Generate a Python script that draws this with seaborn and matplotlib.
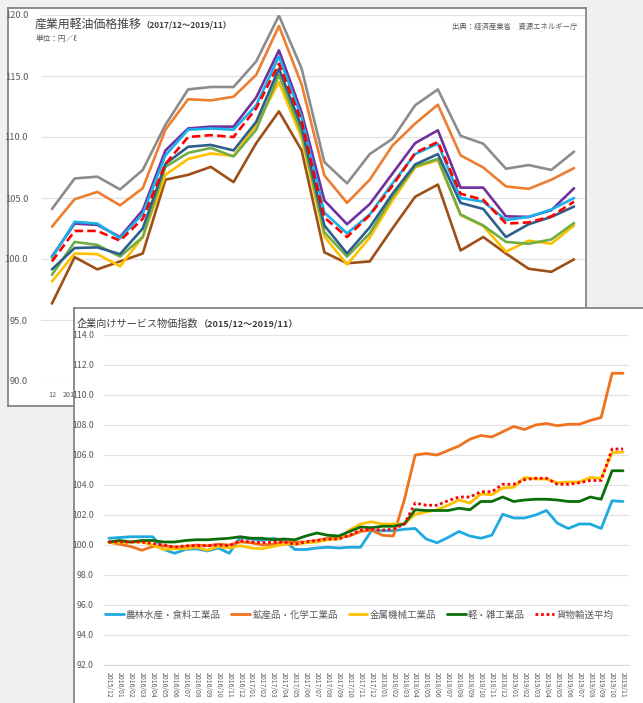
import numpy as np
import pandas as pd
import matplotlib
matplotlib.use('Agg')
import matplotlib.pyplot as plt
from matplotlib.lines import Line2D
import seaborn as sns

# ================================================
# Data: 産業用軽油価格推移 (2017/12 - 2019/11), 円/ℓ
# ================================================
diesel_labels = ['12', '2018/1', '2', '3', '4', '5', '6', '7', '8', '9', '10', '11', '12',
                 '2019/1', '2', '3', '4', '5', '6', '7', '8', '9', '10', '11']

diesel_a = [104.1, 106.6, 106.75, 105.7, 107.3, 111.0, 113.9, 114.1, 114.1, 116.2, 119.95, 115.6,
            107.95, 106.2, 108.6, 109.85, 112.6, 113.9, 110.1, 109.45, 107.4, 107.7, 107.3, 108.8]
diesel_b = [102.65, 104.9, 105.5, 104.4, 105.8, 110.6, 113.1, 113.0, 113.3, 115.1, 119.1, 114.3,
            106.85, 104.6, 106.5, 109.3, 111.1, 112.65, 108.5, 107.5, 105.95, 105.75, 106.5, 107.45]
diesel_c = [100.2, 102.9, 102.8, 101.8, 104.0, 108.9, 110.7, 110.85, 110.85, 113.25, 117.1, 112.0,
            104.8, 102.85, 104.5, 107.0, 109.5, 110.55, 105.85, 105.85, 103.5, 103.45, 104.0, 105.8]
diesel_d = [100.1, 103.05, 102.9, 101.7, 103.7, 108.5, 110.6, 110.7, 110.6, 112.6, 116.6, 111.6,
            103.8, 102.1, 103.65, 106.2, 108.6, 109.45, 105.0, 104.7, 103.2, 103.45, 104.05, 105.0]
diesel_national = [99.8, 102.3, 102.3, 101.5, 103.3, 107.8, 110.0, 110.15, 110.0, 112.35, 116.0, 111.3,
                   103.4, 101.8, 103.6, 106.0, 108.7, 109.6, 105.35, 104.85, 102.9, 103.0, 103.5, 104.7]
diesel_e = [99.15, 100.9, 100.95, 100.4, 102.5, 107.8, 109.2, 109.35, 108.9, 111.25, 115.6, 110.8,
            102.75, 100.45, 102.6, 105.35, 107.75, 108.6, 104.6, 104.1, 101.8, 102.85, 103.45, 104.3]
diesel_f = [98.7, 101.4, 101.15, 100.2, 101.8, 107.55, 108.7, 109.1, 108.4, 110.6, 115.1, 110.3,
            102.2, 100.2, 102.1, 105.1, 107.6, 108.2, 103.65, 102.75, 101.4, 101.25, 101.6, 102.95]
diesel_g = [98.15, 100.45, 100.4, 99.4, 101.8, 106.9, 108.2, 108.65, 108.45, 111.0, 114.5, 109.9,
            101.85, 99.55, 101.75, 104.8, 107.5, 108.1, 103.6, 102.7, 100.6, 101.5, 101.25, 102.75]
diesel_h = [96.35, 100.15, 99.15, 99.8, 100.45, 106.5, 106.9, 107.55, 106.3, 109.5, 112.1, 108.9,
            100.55, 99.65, 99.8, 102.5, 105.1, 106.1, 100.7, 101.8, 100.45, 99.2, 98.95, 99.97]

# ================================================
# Data: 企業向けサービス物価指数 (2015/12 - 2019/11)
# ================================================
sppi_labels = [p.strftime('%Y/%m') for p in pd.period_range('2015-12', '2019-11', freq='M')]

sppi_names = ['農林水産・食料工業品', '鉱産品・化学工業品', '金属機械工業品', '軽・雑工業品', '貨物輸送平均']

sppi_food = [100.45, 100.5, 100.55, 100.55, 100.55, 99.7, 99.45, 99.7, 99.75, 99.6,
             99.8, 99.45, 100.5, 100.4, 100.3, 100.45, 100.3, 99.7, 99.7, 99.8,
             99.85, 99.8, 99.85, 99.85, 100.95, 100.95, 100.95, 101.05, 101.1, 100.4,
             100.15, 100.5, 100.9, 100.6, 100.45, 100.65, 102.05, 101.8, 101.8, 102.0,
             102.3, 101.45, 101.1, 101.4, 101.4, 101.1, 102.95, 102.9]
sppi_chem = [100.2, 100.05, 99.9, 99.65, 99.9, 99.95, 99.85, 99.9, 100.0, 99.95,
             100.05, 100.0, 100.2, 100.15, 100.0, 100.05, 100.2, 100.2, 100.2, 100.3,
             100.45, 100.5, 100.6, 100.9, 101.0, 100.65, 100.6, 103.0, 106.0, 106.1,
             106.0, 106.3, 106.6, 107.05, 107.3, 107.2, 107.55, 107.9, 107.7, 108.0,
             108.1, 107.95, 108.05, 108.05, 108.3, 108.5, 111.45, 111.45]
sppi_metal = [100.15, 100.15, 100.2, 100.2, 100.0, 99.7, 99.75, 99.75, 99.85, 99.65,
              99.9, 99.8, 99.95, 99.8, 99.75, 99.9, 100.05, 100.05, 100.15, 100.2,
              100.35, 100.4, 101.0, 101.4, 101.55, 101.4, 101.4, 101.4, 102.05, 102.2,
              102.35, 102.65, 103.0, 102.8, 103.4, 103.35, 103.8, 103.85, 104.5, 104.4,
              104.4, 104.15, 104.2, 104.2, 104.5, 104.45, 106.15, 106.2]
sppi_light = [100.2, 100.3, 100.2, 100.3, 100.3, 100.2, 100.2, 100.3, 100.35, 100.35,
              100.4, 100.45, 100.55, 100.45, 100.45, 100.35, 100.4, 100.35, 100.6, 100.8,
              100.65, 100.6, 100.9, 101.2, 101.15, 101.25, 101.25, 101.4, 102.35, 102.3,
              102.3, 102.3, 102.45, 102.35, 102.9, 102.9, 103.2, 102.9, 103.0, 103.05,
              103.05, 103.0, 102.9, 102.9, 103.2, 103.05, 104.95, 104.95]
sppi_freight = [100.2, 100.2, 100.2, 100.2, 100.1, 100.0, 99.85, 99.95, 99.95, 99.95,
                100.0, 99.95, 100.3, 100.2, 100.15, 100.2, 100.2, 100.05, 100.2, 100.3,
                100.4, 100.4, 100.65, 101.0, 101.05, 101.0, 101.05, 101.4, 102.8, 102.65,
                102.65, 102.95, 103.2, 103.2, 103.55, 103.55, 104.05, 104.05, 104.35, 104.45,
                104.45, 104.05, 104.05, 104.15, 104.3, 104.3, 106.4, 106.4]

# ================================================
# Figure layout (pixel boxes, top-left origin)
# ================================================
sns.set_style('white')
plt.rcParams['font.family'] = ['Noto Sans CJK JP', 'DejaVu Sans']

W, H = 643, 703
TXT = '#595959'
GRID = '#E3E3E3'


def box(x0, y0, x1, y1):
    return [x0 / W, 1 - y1 / H, (x1 - x0) / W, (y1 - y0) / H]


def fpos(x, y):
    return (x / W, 1 - y / H)


def make_panel(rect, z):
    p = fig.add_axes(rect, zorder=z)
    p.set_facecolor('white')
    p.set_xticks([])
    p.set_yticks([])
    for s in p.spines.values():
        s.set_color('#858585')
        s.set_linewidth(1.3)
    return p


fig = plt.figure(figsize=(W / 100, H / 100), dpi=100, facecolor='#F0F0F0')

panel1 = make_panel(box(7.5, 8.5, 586, 406), 0)
ax1 = fig.add_axes(box(40.6, 15, 585.4, 381), zorder=1)
panel2 = make_panel(box(74, 308, 660, 720), 2)
ax2 = fig.add_axes(box(103.5, 335, 628.5, 665), zorder=3)

# ================================================
# Chart 1: diesel prices
# ================================================
x1 = np.arange(len(diesel_labels))
diesel_series = [
    (diesel_a, '#8C8C8C', '-'),
    (diesel_b, '#ED7D31', '-'),
    (diesel_h, '#9E4F16', '-'),
    (diesel_g, '#FFC000', '-'),
    (diesel_f, '#70AD47', '-'),
    (diesel_e, '#2E5F8A', '-'),
    (diesel_c, '#7030A0', '-'),
    (diesel_d, '#1AB0E8', '-'),
    (diesel_national, '#FF0000', (0, (3.2, 1.6))),
]
for vals, col, ls in diesel_series:
    sns.lineplot(x=x1, y=vals, ax=ax1, color=col, linestyle=ls, linewidth=1.9, legend=False)

ax1.set_facecolor('none')
ax1.set_xlim(-0.5, len(x1) - 0.5)
ax1.set_ylim(90, 120)
ax1.set_yticks(np.arange(90, 121, 5))
ax1.set_yticklabels([f'{v:.1f}' for v in np.arange(90, 121, 5)])
ax1.set_xticks(x1)
ax1.set_xticklabels(diesel_labels)
ax1.tick_params(axis='y', length=0, pad=9, labelsize=6.7, labelcolor=TXT)
ax1.tick_params(axis='x', length=0, pad=7, labelsize=5.2, labelcolor=TXT)
ax1.grid(axis='y', color=GRID, linewidth=0.9)
ax1.set_axisbelow(True)
ax1.set_xlabel('')
ax1.set_ylabel('')
sns.despine(ax=ax1, left=True, bottom=True)

t1 = panel1.text(*fpos(35, 24), '産業用軽油価格推移', transform=fig.transFigure,
                 fontsize=8.6, color='#404040', va='center', ha='left')
panel1.annotate('（2017/12～2019/11）', xy=(1, 0.45), xycoords=t1, va='center', ha='left',
                fontsize=6, fontweight='bold', color='#404040', annotation_clip=False)
panel1.text(*fpos(36, 39), '単位：円／ℓ', transform=fig.transFigure,
            fontsize=5.5, color=TXT, va='center', ha='left')
panel1.text(*fpos(577, 27), '出典：経済産業省　資源エネルギー庁', transform=fig.transFigure,
            fontsize=5.3, color=TXT, va='center', ha='right')

# ================================================
# Chart 2: services producer price index
# ================================================
x2 = np.arange(len(sppi_labels))
sppi_series = [
    (sppi_food, '#1EA9E1', '-'),
    (sppi_chem, '#F2711C', '-'),
    (sppi_metal, '#FFC000', '-'),
    (sppi_light, '#0B6E0B', '-'),
    (sppi_freight, '#FF0000', (0, (1, 1))),
]
handles = []
for (vals, col, ls), name in zip(sppi_series, sppi_names):
    sns.lineplot(x=x2, y=vals, ax=ax2, color=col, linestyle=ls, linewidth=2.0, legend=False)
    handles.append(Line2D([], [], color=col, linestyle=ls, linewidth=2.0))

ax2.set_facecolor('none')
ax2.set_xlim(-0.5, len(x2) - 0.5)
ax2.set_ylim(92, 114)
ax2.set_yticks(np.arange(92, 115, 2))
ax2.set_yticklabels([f'{v:.1f}' for v in np.arange(92, 115, 2)])
ax2.set_xticks(x2)
ax2.set_xticklabels(sppi_labels, rotation=-90)
ax2.set_xticks(np.arange(-0.5, len(x2), 1), minor=True)
ax2.tick_params(axis='y', length=0, pad=7, labelsize=6.3, labelcolor=TXT)
ax2.tick_params(axis='x', which='major', length=0, pad=5, labelsize=4.9, labelcolor=TXT)
ax2.tick_params(axis='x', which='minor', length=3, color='#D9D9D9', width=0.8)
ax2.grid(axis='y', color=GRID, linewidth=0.9)
ax2.set_axisbelow(True)
ax2.set_xlabel('')
ax2.set_ylabel('')
sns.despine(ax=ax2, left=True)
ax2.spines['bottom'].set_color('#D9D9D9')
ax2.spines['bottom'].set_linewidth(0.9)

ax2.legend(handles, sppi_names, loc='center', bbox_to_anchor=(0.487, 0.1515), ncol=5,
           frameon=False, fontsize=6.8, handlelength=2.0, handletextpad=0.25,
           columnspacing=1.1, labelcolor=TXT)

t2 = panel2.text(*fpos(77, 324), '企業向けサービス物価指数', transform=fig.transFigure,
                 fontsize=7.3, color='#404040', va='center', ha='left')
panel2.annotate('（2015/12～2019/11）', xy=(1, 0.45), xycoords=t2, va='center', ha='left',
                fontsize=6.6, fontweight='bold', color='#404040', annotation_clip=False)

fig.savefig('out.png', dpi=100, facecolor=fig.get_facecolor())
